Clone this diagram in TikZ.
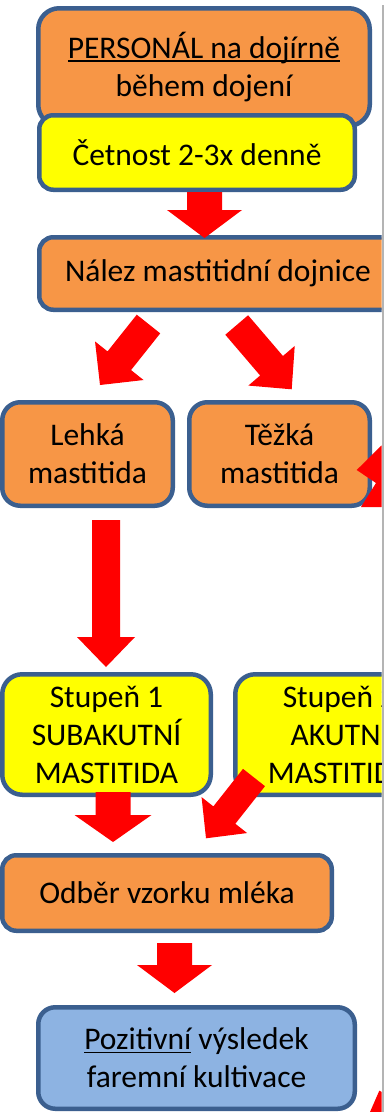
\documentclass[tikz,border=0pt]{standalone}
\usepackage{fontspec}
\setmainfont{Carlito}
\usetikzlibrary{calc}

\definecolor{edgeblue}{HTML}{3B5F8F}
\definecolor{orangefill}{HTML}{F79646}
\definecolor{yellowfill}{HTML}{FFFF00}
\definecolor{bluefill}{HTML}{8DB3E2}
\definecolor{arrowred}{HTML}{FF0000}
\definecolor{rulegrey}{HTML}{B4B4B4}

% text with a plain rule under it, at a fixed distance below the baseline
\newcommand\ulined[1]{\setbox0\hbox{#1}\rlap{\rule[-3.4pt]{\wd0}{1.7pt}}\box0\relax}

% block arrow: #1 start, #2 tip, #3 half shaft width, #4 half head width, #5 head length
\newcommand\redarrow[5]{%
  \coordinate (hb) at ($(#2)!#5!(#1)$);
  \fill[arrowred] ($(#1)!#3!90:(#2)$) -- ($(hb)!#3!90:(#2)$) -- ($(hb)!#4!90:(#2)$)
    -- (#2) -- ($(hb)!#4!-90:(#2)$) -- ($(hb)!#3!-90:(#2)$) -- ($(#1)!#3!-90:(#2)$) -- cycle;
}

\tikzset{
  box/.style={draw=edgeblue, line width=4.5pt, rounded corners=#1, align=center,
    inner sep=0pt, font=\fontsize{31.5}{38}\selectfont},
  box/.default=15pt
}

\begin{document}
\begin{tikzpicture}[x=1pt, y=-1pt]
\useasboundingbox (0,0) rectangle (384,1112);
\fill[white] (0,0) rectangle (384,1112);

\begin{scope}
\clip (0,0) rectangle (381.5,1112);

% boxes
\node[box=21pt, fill=orangefill, minimum width=331.5pt, minimum height=117.5pt]
  (staff) at (204,67) {\ulined{PERSONÁL na dojírně}\\během dojení};
\node[box=14pt, fill=yellowfill, minimum width=315.5pt, minimum height=74.5pt]
  (freq) at (197,152.5) {Četnost 2-3x denně};
\node[box=14pt, fill=orangefill, minimum width=357.5pt, minimum height=72.5pt]
  (find) at (218,273.5) {Nález mastitidní dojnice};
\node[box=18pt, fill=orangefill, minimum width=170.5pt, minimum height=103.5pt]
  (mild) at (87.5,454) {Lehká\\mastitida};
\node[box=18pt, fill=orangefill, minimum width=180.5pt, minimum height=103.5pt]
  (severe) at (279.5,454) {Těžká\\mastitida};
\node[box=20pt, fill=yellowfill, minimum width=208.5pt, minimum height=120.5pt]
  (grade1) at (106.5,734.5) {Stupeň 1\\SUBAKUTNÍ\\MASTITIDA};
\node[box=20pt, fill=yellowfill, minimum width=208.5pt, minimum height=120.5pt]
  (grade2) at (339.5,734.5) {Stupeň 2\\AKUTNÍ\\MASTITIDA};
\node[box=14pt, fill=orangefill, minimum width=329.5pt, minimum height=75.5pt]
  (sample) at (167,893) {Odběr vzorku mléka};
\node[box=17pt, fill=bluefill, minimum width=316.5pt, minimum height=101.5pt]
  (result) at (196.5,1058) {\ulined{Pozitivní} výsledek\\faremní kultivace};

% arrow end points
\coordinate (a1s) at (204.5,192);   \coordinate (a1t) at (204.5,238);
\coordinate (a2s) at (148.5,324);   \coordinate (a2t) at (100,385);
\coordinate (a3s) at (236.7,325);   \coordinate (a3t) at (291.7,389.3);
\coordinate (a4s) at (106,520);     \coordinate (a4t) at (106,667);
\coordinate (a5s) at (113,792);     \coordinate (a5t) at (113,842);
\coordinate (a6s) at (254,777.5);   \coordinate (a6t) at (206,838.3);
\coordinate (a7s) at (174.5,943);   \coordinate (a7t) at (174.5,993);

\redarrow{a1s}{a1t}{17.5pt}{37.5pt}{28pt}
\redarrow{a2s}{a2t}{15pt}{31pt}{31pt}
\redarrow{a3s}{a3t}{15pt}{30.5pt}{31pt}
\redarrow{a4s}{a4t}{14pt}{29pt}{30pt}
\redarrow{a5s}{a5t}{17.5pt}{38.5pt}{27pt}
\redarrow{a6s}{a6t}{14pt}{29pt}{29.6pt}
\redarrow{a7s}{a7t}{17.5pt}{37.5pt}{28pt}

% arrows leaving to the right
\fill[arrowred] (356.7,470) -- (382,445) -- (382,507) -- (361,507) -- (376,483) -- cycle;
\fill[arrowred] (370,1112) -- (379.3,1090.7) -- (382,1092) -- (382,1112) -- cycle;
\end{scope}

% page rule on the right
\draw[rulegrey, line width=1.2pt] (383,5) -- (383,1112);
\end{tikzpicture}
\end{document}
